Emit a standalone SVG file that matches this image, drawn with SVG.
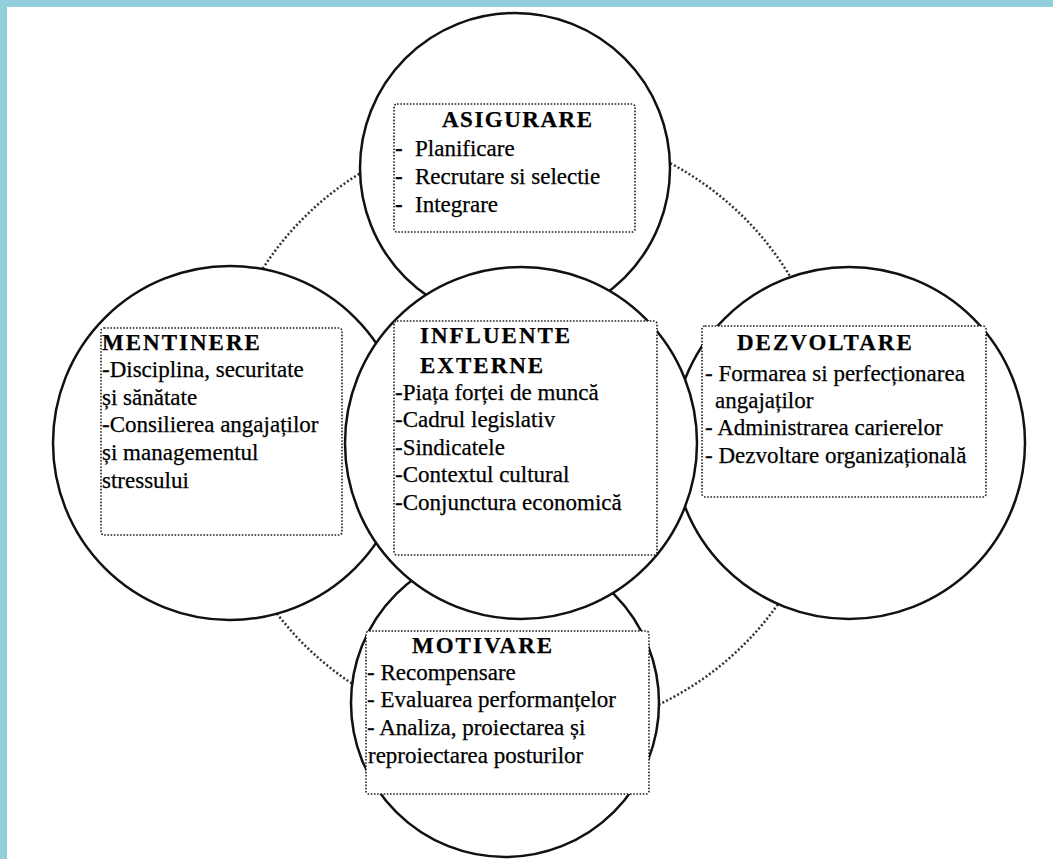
<svg xmlns="http://www.w3.org/2000/svg" width="1053" height="859" viewBox="0 0 1053 859">
<style>
.circ{fill:#fff;stroke:#111;stroke-width:2.5}
.box{fill:#fff;stroke:#222;stroke-width:1.6;stroke-dasharray:1.6 1.6}
.ring{fill:none;stroke:#333;stroke-width:2.5;stroke-dasharray:2 2.2}
text{font-family:"Liberation Serif","Times New Roman",serif;font-size:23px;fill:#000;stroke:#000;stroke-width:0.25}
.t{font-weight:bold;letter-spacing:2px}
.b{font-weight:bold}
</style>
<rect x="0" y="0" width="1053" height="859" fill="#fff"/>
<rect x="0" y="0" width="1053" height="7" fill="#93cedc"/>
<rect x="0" y="0" width="7" height="859" fill="#93cedc"/>
<g id="connectors">
<ellipse class="ring" cx="524" cy="431" rx="309" ry="304"/>
</g>
<g id="asigurare">
<circle class="circ" cx="515" cy="168" r="155"/>
<rect class="box" x="394" y="104" width="241" height="128" rx="3"/>
<text class="t" x="442" y="127" style="letter-spacing:1.5px">ASIGURARE</text>
<text x="395" y="156"><tspan class="b">-</tspan><tspan x="415">Planificare</tspan></text>
<text x="395" y="184"><tspan class="b">-</tspan><tspan x="415">Recrutare si selectie</tspan></text>
<text x="395" y="212"><tspan class="b">-</tspan><tspan x="415">Integrare</tspan></text>
</g>
<g id="mentinere">
<circle class="circ" cx="230" cy="443" r="177"/>
<rect class="box" x="101" y="328" width="241" height="207" rx="3"/>
<text class="t" x="102" y="350">MENTINERE</text>
<text x="102" y="377">-Disciplina, securitate</text>
<text x="102" y="405">și sănătate</text>
<text x="102" y="432">-Consilierea angajaților</text>
<text x="102" y="460">și managementul</text>
<text x="102" y="488">stressului</text>
</g>
<g id="dezvoltare">
<circle class="circ" cx="849" cy="443" r="176"/>
<rect class="box" x="702" y="326" width="284" height="171" rx="3"/>
<text class="t" x="737" y="350">DEZVOLTARE</text>
<text x="705" y="381">- Formarea si perfecționarea</text>
<text x="715" y="408">angajaților</text>
<text x="705" y="435">- Administrarea carierelor</text>
<text x="705" y="463">- Dezvoltare organizațională</text>
</g>
<g id="motivare">
<circle class="circ" cx="505" cy="703" r="154"/>
<rect class="box" x="366" y="631" width="283" height="163" rx="3"/>
<text class="t" x="412" y="653">MOTIVARE</text>
<text x="367" y="680">- Recompensare</text>
<text x="367" y="707">- Evaluarea performanțelor</text>
<text x="367" y="735">- Analiza, proiectarea și</text>
<text x="368" y="763">reproiectarea posturilor</text>
</g>
<g id="influente-externe">
<circle class="circ" cx="521" cy="443" r="176"/>
<rect class="box" x="394" y="321" width="263" height="234" rx="3"/>
<text class="t" x="420" y="343">INFLUENTE</text>
<text class="t" x="420" y="373">EXTERNE</text>
<text x="395" y="400">-Piața forței de muncă</text>
<text x="395" y="427">-Cadrul legislativ</text>
<text x="395" y="455">-Sindicatele</text>
<text x="395" y="482">-Contextul cultural</text>
<text x="395" y="510">-Conjunctura economică</text>
</g>
</svg>
